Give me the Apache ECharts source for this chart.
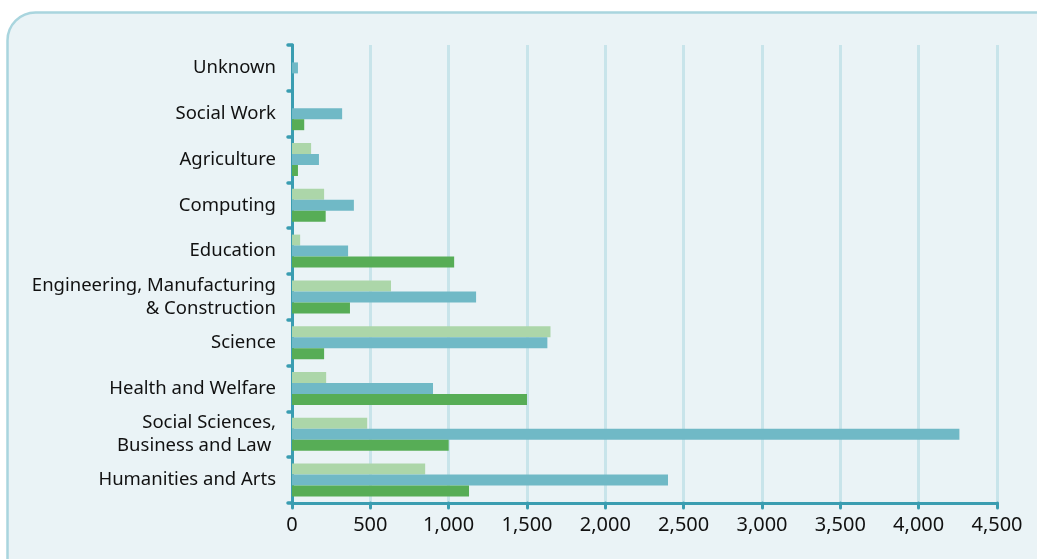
<!DOCTYPE html>
<html><head><meta charset="utf-8">
<script src="https://cdn.jsdelivr.net/npm/echarts@6/dist/echarts.min.js"></script>
<style>html,body{margin:0;padding:0;background:#fff}#c{width:1037px;height:559px}</style>
</head><body><div id="c"></div>
<script>
const categories = ["Humanities and Arts","Social Sciences,\nBusiness and Law ","Health and Welfare","Science","Engineering, Manufacturing\n& Construction","Education","Computing","Agriculture","Social Work","Unknown"];
const seriesGreen = [1130, 1000, 1500, 205, 370, 1035, 215, 38, 78, 0];
const seriesTeal = [2400, 4260, 900, 1630, 1175, 358, 395, 172, 320, 38];
const seriesLight = [850, 480, 218, 1650, 632, 52, 205, 122, 0, 0];
const xTicks = {min: 0, max: 4500, interval: 500};

const chart = echarts.init(document.getElementById('c'), null, {renderer: 'canvas'});
const axisColor = '#3a9db1';
chart.setOption({
  backgroundColor: '#ffffff',
  animation: false,
  graphic: [{type: 'rect', z: -10, shape: {x: 7.5, y: 12.5, width: 1080, height: 600, r: 28},
    style: {fill: '#eaf3f6', stroke: '#a9d5de', lineWidth: 2.5}}],
  grid: {left: 292, right: 40, top: 45, bottom: 56},
  xAxis: {type: 'value', min: xTicks.min, max: xTicks.max, interval: xTicks.interval,
    axisLine: {show: true, lineStyle: {color: axisColor, width: 3}},
    axisTick: {show: true, length: 5, lineStyle: {color: axisColor, width: 3, cap: 'round'}},
    splitLine: {show: true, lineStyle: {color: '#c8e4ea', width: 3}},
    axisLabel: {color: '#111', fontSize: 20, fontFamily: 'Noto Sans', margin: 12,
      formatter: v => v.toLocaleString('en-US')}},
  yAxis: {type: 'category', data: categories,
    axisLine: {show: true, lineStyle: {color: axisColor, width: 3}},
    axisTick: {show: true, length: 4, lineStyle: {color: axisColor, width: 3.5, cap: 'round'}},
    axisLabel: {color: '#111', fontSize: 18.5, fontFamily: 'Noto Sans', margin: 16, lineHeight: 23, align: 'right'}},
  series: [
    {type: 'bar', data: seriesLight, itemStyle: {color: '#acd6a9'}, barGap: '0%', barCategoryGap: '28%'},
    {type: 'bar', data: seriesTeal, itemStyle: {color: '#70b9c6'}, barGap: '0%', barCategoryGap: '28%'},
    {type: 'bar', data: seriesGreen, itemStyle: {color: '#57ad56'}, barGap: '0%', barCategoryGap: '28%'}
  ]
});
</script></body></html>
